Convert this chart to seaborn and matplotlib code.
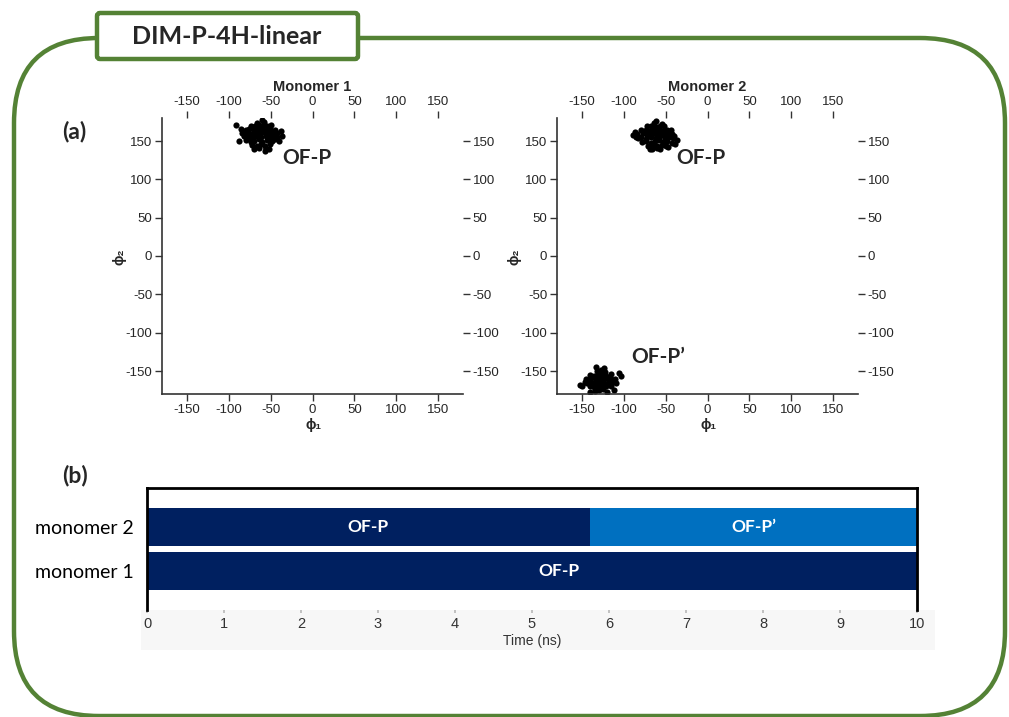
import matplotlib
matplotlib.use("Agg")
import matplotlib.pyplot as plt
import seaborn as sns
from matplotlib.patches import FancyBboxPatch, Rectangle

# Ramachandran-like clusters (phi1, phi2)
m1_phi1 = [-72, -66, -61, -57, -51,
           -79, -74, -70, -64, -60, -54, -48, -45,
           -82, -77, -72, -68, -62, -56, -52, -47, -42,
           -84, -78, -73, -67, -63, -58, -53, -48, -43,
           -80, -76, -70, -65, -60, -55, -51, -45,
           -74, -69, -64, -59, -54, -50,
           -66, -58, -64, -56,
           -91, -86, -38, -40, -70, -52, -88, -36, -60, -57]
m1_phi2 = [145, 144, 146, 143, 146,
           151, 149, 150, 152, 149, 151, 150, 152,
           156, 154, 155, 157, 155, 156, 154, 157, 155,
           160, 161, 159, 161, 160, 162, 159, 161, 160,
           165, 166, 164, 166, 165, 164, 166, 165,
           170, 169, 171, 170, 169, 171,
           174, 175, 141, 140,
           171, 166, 163, 150, 139, 139, 150, 157, 177, 137]

m2a_phi1 = [-71, -65, -60, -55, -50,
            -78, -73, -68, -63, -58, -53, -48, -43,
            -83, -79, -73, -67, -62, -57, -51, -46, -41,
            -84, -77, -72, -66, -61, -56, -52, -47, -42,
            -79, -74, -69, -64, -58, -53, -48, -44,
            -72, -67, -62, -57, -52,
            -64, -55, -69, -60,
            -87, -85, -37, -39, -40, -57, -66, -89, -47, -62]
m2a_phi2 = [144, 145, 143, 145, 144,
            149, 150, 148, 150, 151, 149, 150, 148,
            154, 155, 153, 155, 154, 156, 153, 155, 154,
            159, 160, 158, 160, 159, 161, 158, 160, 159,
            164, 165, 163, 165, 164, 163, 165, 164,
            169, 170, 168, 170, 169,
            173, 172, 140, 141,
            162, 155, 151, 146, 157, 139, 140, 158, 142, 176]

m2b_phi1 = [-132, -127, -122,
            -141, -136, -131, -126, -121, -116,
            -145, -140, -135, -130, -125, -120, -115, -111,
            -144, -139, -134, -129, -124, -119, -114, -110,
            -141, -136, -131, -126, -121, -116,
            -130, -125, -135,
            -150, -147, -106, -103, -133, -124, -140, -112, -120, -152]
m2b_phi2 = [-150, -149, -151,
            -155, -156, -154, -155, -156, -154,
            -161, -160, -159, -161, -160, -159, -161, -160,
            -166, -165, -164, -166, -165, -166, -164, -165,
            -170, -171, -169, -171, -170, -169,
            -175, -174, -176,
            -170, -164, -152, -157, -145, -146, -177, -175, -178, -168]

phi_ticks = [-150, -100, -50, 0, 50, 100, 150]

# timeline of states (b)
monomers = ["monomer 2", "monomer 1"]
seg_monomer = ["monomer 2", "monomer 2", "monomer 1"]
seg_state = ["OF-P", "OF-P\u2019", "OF-P"]
seg_start = [0, 5.75, 0]
seg_end = [5.75, 10, 10]
time_ticks = list(range(0, 11))

state_colors = {"OF-P": "#002060", "OF-P\u2019": "#0070C0"}
green = "#548235"

sns.set_theme(style="white")
plt.rcParams["font.family"] = ["Liberation Sans", "DejaVu Sans"]
plt.rcParams["axes.unicode_minus"] = False

W, H = 1009, 717
fig = plt.figure(figsize=(W / 100, H / 100), dpi=100)

# background layer in pixel coordinates
bg = fig.add_axes([0, 0, 1, 1], zorder=0)
bg.set_xlim(0, W)
bg.set_ylim(H, 0)
bg.axis("off")
bg.add_patch(FancyBboxPatch((14, 38), 991, 678,
                            boxstyle="round,pad=0,rounding_size=85",
                            fill=False, ec=green, lw=3.2))
bg.add_patch(FancyBboxPatch((97, 13), 261, 46,
                            boxstyle="round,pad=0,rounding_size=3",
                            fc="white", ec=green, lw=3.2))
bg.text(227, 37, "DIM-P-4H-linear", ha="center", va="center",
        fontsize=18, fontweight="bold", family="Lato")
bg.text(62, 131, "(a)", ha="left", va="center", fontsize=16.5,
        fontweight="bold", family="Lato")
bg.text(62, 476, "(b)", ha="left", va="center", fontsize=16.5,
        fontweight="bold", family="Lato")
bg.add_patch(Rectangle((141, 610), 794, 40, fc="#f7f7f7", ec="none"))


def phi_panel(left_px, title, clusters, labels):
    ax = fig.add_axes([left_px / W, 1 - 394 / H, 301 / W, 276 / H], zorder=2)
    ax.set_facecolor("none")
    for x, y in clusters:
        sns.scatterplot(x=x, y=y, ax=ax, color="black", s=20,
                        linewidth=0, legend=False)
    ax.set_xlim(-180, 180)
    ax.set_ylim(-180, 180)
    ax.set_xticks(phi_ticks)
    ax.set_yticks(phi_ticks)
    ax.tick_params(top=True, labeltop=True, bottom=True, labelbottom=True,
                   left=True, labelleft=True, right=True, labelright=True,
                   direction="out", length=5, width=1, color="#333333",
                   labelsize=9.5, pad=2)
    ax.spines["top"].set_visible(False)
    ax.spines["right"].set_visible(False)
    for s in ["left", "bottom"]:
        ax.spines[s].set_color("#333333")
        ax.spines[s].set_linewidth(1.2)
    ax.set_xlabel("")
    ax.set_ylabel("")
    ax.text(0.5, 1.112, title, transform=ax.transAxes, ha="center",
            va="center", fontsize=10.5, fontweight="bold")
    ax.text(0.502, -0.112, "\u03d5\u2081", transform=ax.transAxes,
            ha="center", va="center", fontsize=10, fontweight="bold")
    ax.text(-0.14, 0.496, "\u03d5\u2082", transform=ax.transAxes,
            ha="center", va="center", fontsize=10, fontweight="bold",
            rotation=90)
    for tx, ty, t in labels:
        ax.text(tx, ty, t, ha="left", va="center", fontsize=15,
                fontweight="bold", family="Lato")
    return ax


phi_panel(162, "Monomer 1", [(m1_phi1, m1_phi2)],
          [(-36, 128, "OF-P")])
phi_panel(557, "Monomer 2", [(m2a_phi1, m2a_phi2), (m2b_phi1, m2b_phi2)],
          [(-37, 128, "OF-P"), (-91, -132, "OF-P\u2019")])

# (b) state timeline
axb = fig.add_axes([147 / W, 1 - 610 / H, 770 / W, 122 / H], zorder=2)
axb.set_facecolor("none")
order = sorted(range(len(seg_start)), key=lambda i: -seg_start[i])
for i in order:
    sns.barplot(x=[seg_end[i]], y=[seg_monomer[i]], order=monomers,
                color=state_colors[seg_state[i]], saturation=1, width=0.86,
                linewidth=0, errorbar=None, orient="h", ax=axb)
for i in range(len(seg_start)):
    yi = monomers.index(seg_monomer[i])
    xc = (seg_start[i] + seg_end[i]) / 2
    if seg_monomer[i] == "monomer 1":
        xc = 5.35
    axb.text(xc, yi, seg_state[i], ha="center", va="center", color="white",
             fontsize=12.5, fontweight="bold", family="Lato")
axb.set_xlim(0, 10)
axb.set_ylim(1.886, -0.886)
axb.set_xticks(time_ticks)
axb.set_xticklabels([str(t) for t in time_ticks])
axb.tick_params(axis="x", bottom=True, length=2, color="#bbbbbb",
                labelsize=10.5, labelcolor="#333333", pad=3)
axb.tick_params(axis="y", left=False, length=0, pad=9.5)
for lab in axb.get_yticklabels():
    lab.set_family("Lato")
    lab.set_fontsize(14)
    lab.set_color("black")
axb.set_xlabel("Time (ns)", fontsize=10, color="#333333", labelpad=2)
axb.set_ylabel("")
axb.spines["bottom"].set_visible(False)
for s in ["top", "left", "right"]:
    axb.spines[s].set_color("black")
    axb.spines[s].set_linewidth(2)

fig.savefig("out.png", dpi=100)
